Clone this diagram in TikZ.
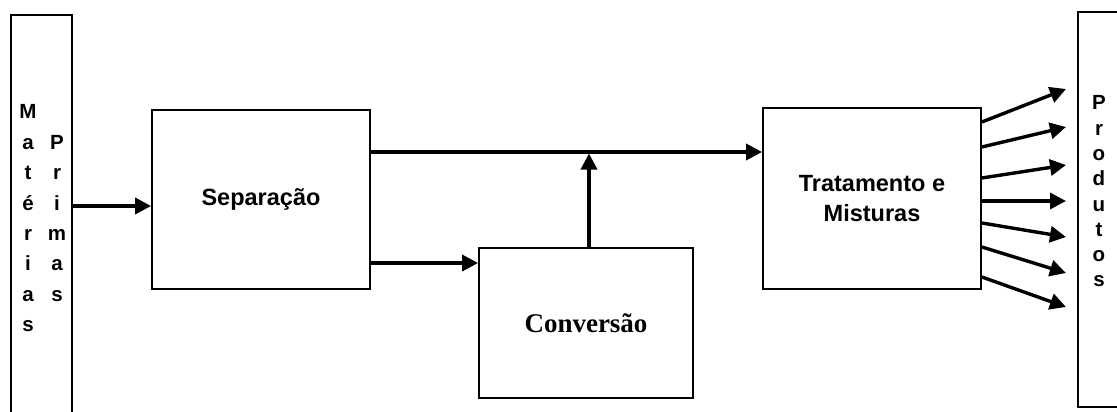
\documentclass[tikz,border=0pt]{standalone}
\usepackage{fontspec}
\setmainfont{Liberation Sans}
\newfontfamily\serifbold{Liberation Serif}
\usetikzlibrary{arrows.meta}
\begin{document}
\begin{tikzpicture}[x=1pt,y=-1pt,
  box/.style={draw,line width=1.8pt,inner sep=0pt},
  lbl/.style={font=\fontsize{23.5}{29.5}\selectfont\bfseries,align=center},
  col/.style={font=\fontsize{20.5}{30.4}\selectfont\bfseries,align=center,inner sep=0pt,anchor=north},
  colr/.style={col,font=\fontsize{20.5}{25.3}\selectfont\bfseries},
  arr/.style={line width=3.4pt,-{Triangle[length=16pt,width=16pt]}}]
\useasboundingbox (0,0) rectangle (1117,412);
% columns
\node[box,minimum width=61pt,minimum height=420pt] (colL) at (41.5,225) {};
\node[box,minimum width=62pt,minimum height=395pt] (colR) at (1109,209.5) {};
\node[col] (mat) at (28,104.6) {M\\a\\t\\é\\r\\i\\a\\s};
\node[col] (pri) at (57,135) {P\\r\\i\\m\\a\\s};
\node[colr] (prod) at (1099,95.5) {P\\r\\o\\d\\u\\t\\o\\s};
% boxes
\node[box,lbl,minimum width=218pt,minimum height=179pt] (sep) at (261,199.5) {Separação};
\node[box,minimum width=214pt,minimum height=150pt,font=\serifbold\bfseries\fontsize{27}{30}\selectfont] (conv) at (586,323) {Conversão};
\node[box,lbl,minimum width=218pt,minimum height=181pt] (trat) at (872,198.5) {Tratamento e\\Misturas};
% connectors
\coordinate (j) at (589,153.5);
\draw[arr] (colL.east |- 0,206) -- (sep.west |- 0,206);
\draw[arr] (sep.east |- 0,152) -- (trat.west |- 0,152);
\draw[arr] (sep.east |- 0,263) -- (conv.west |- 0,263);
\draw[arr] (conv.north -| j) -- (j);
% outputs
\foreach \s/\t [count=\i] in {122/89,147/127,178/165,201/201,223/237,247/273,277/307}{
  \coordinate (p\i) at (1066,\t);
  \draw[arr] (trat.east |- 0,\s) -- (p\i);
}
\end{tikzpicture}
\end{document}
